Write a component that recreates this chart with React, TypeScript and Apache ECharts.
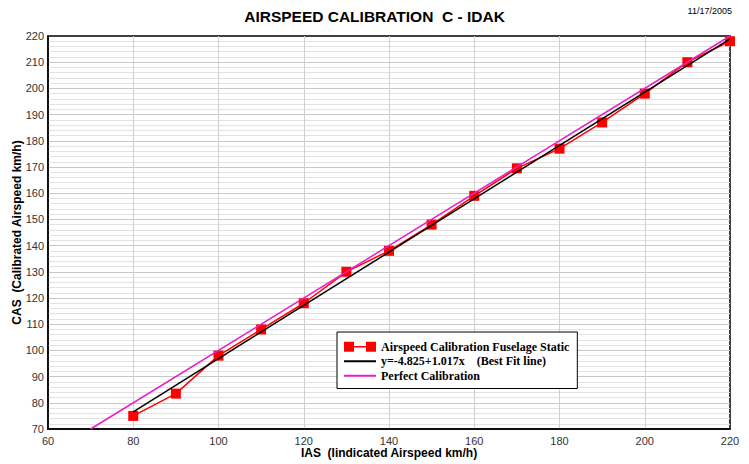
import React, { useEffect, useRef } from "react";
import * as echarts from "echarts";

const ias = [80, 90, 100, 110, 120, 130, 140, 150, 160, 170, 180, 190, 200, 210, 220];
const cas = [75, 83.5, 98, 108, 118, 130, 138, 148, 159, 169.5, 177, 187, 198, 210, 218];
const fitX = [80, 220];
const fitY = [76.5, 218.9];
const perfectX = [70, 220];
const perfectY = [70, 220];

const SANS = "'Liberation Sans', Arial, sans-serif";
const SERIF = "'Liberation Serif', 'Times New Roman', serif";

const NAME_DATA = "Airspeed Calibration Fuselage Static";
const NAME_FIT = "y=-4.825+1.017x    (Best Fit line)";
const NAME_PERFECT = "Perfect Calibration";

export default function App() {
  const ref = useRef<HTMLDivElement>(null);
  useEffect(() => {
    if (!ref.current) return;
    const chart = echarts.init(ref.current, undefined, { renderer: "svg" });
    chart.setOption({
      animation: false,
      backgroundColor: "#ffffff",
      title: [
        {
          text: "AIRSPEED CALIBRATION  C - IDAK",
          left: "center",
          top: 3,
          textStyle: { fontFamily: SANS, fontSize: 15.5, fontWeight: "bold", color: "#000" },
        },
        {
          text: "11/17/2005",
          right: 12,
          top: 1,
          textStyle: { fontFamily: SANS, fontSize: 9, fontWeight: "normal", color: "#000" },
        },
      ],
      legend: {
        orient: "vertical",
        left: 337,
        top: 332,
        padding: [8, 8, 6, 6],
        itemGap: 1,
        itemWidth: 32,
        itemHeight: 10,
        backgroundColor: "#fff",
        borderColor: "#000",
        borderWidth: 1,
        borderRadius: 0,
        textStyle: { fontFamily: SERIF, fontSize: 12, fontWeight: "bold", color: "#000", lineHeight: 13.5 },
        data: [
          {
            name: NAME_DATA,
            icon: "path://M0,0H10V10H0ZM22,0H32V10H22ZM10,4.25H22V5.75H10Z",
            itemStyle: { color: "#ff0000" },
          },
          { name: NAME_FIT, itemStyle: { opacity: 0 } },
          { name: NAME_PERFECT, itemStyle: { opacity: 0 } },
        ],
      },
      grid: {
        left: 48,
        right: 19,
        top: 36,
        bottom: 35,
        outerBoundsMode: "none",
        containLabel: false,
        show: true,
        borderColor: "#000",
        borderWidth: 1.5,
        backgroundColor: "#fff",
      },
      xAxis: {
        type: "value",
        min: 60,
        max: 220,
        interval: 20,
        name: "IAS  (Iindicated Airspeed km/h)",
        nameLocation: "middle",
        nameGap: 18,
        nameMoveOverlap: false,
        nameTextStyle: { fontFamily: SANS, fontSize: 12, fontWeight: "bold", color: "#000" },
        axisLine: { show: true, lineStyle: { color: "#000", width: 1.5 } },
        axisTick: { show: false },
        axisLabel: { fontFamily: SANS, fontSize: 11, color: "#333", margin: 6 },
        splitLine: { show: true, showMinLine: false, showMaxLine: false, lineStyle: { color: "#d0d0d0", width: 1 } },
      },
      yAxis: {
        type: "value",
        min: 70,
        max: 220,
        interval: 10,
        name: "CAS  (Calibrated Airspeed km/h)",
        nameLocation: "middle",
        nameGap: 25,
        nameRotate: 90,
        nameMoveOverlap: false,
        nameTextStyle: { fontFamily: SANS, fontSize: 12, fontWeight: "bold", color: "#000" },
        axisLine: { show: true, lineStyle: { color: "#000", width: 1.5 } },
        axisTick: { show: false },
        axisLabel: { fontFamily: SANS, fontSize: 11, color: "#333", margin: 4 },
        splitLine: { show: true, showMinLine: false, showMaxLine: false, lineStyle: { color: "#c8c8c8", width: 1 } },
        minorTick: { show: false, splitNumber: 5 },
        minorSplitLine: { show: true, lineStyle: { color: "#e2e2e2", width: 1 } },
      },
      series: [
        {
          name: NAME_PERFECT,
          type: "line",
          data: perfectX.map((x, i) => [x, perfectY[i]]),
          showSymbol: false,
          symbol: "none",
          lineStyle: { color: "#e81ec8", width: 1.5 },
          itemStyle: { color: "#e81ec8" },
          z: 3,
        },
        {
          name: NAME_FIT,
          type: "line",
          data: fitX.map((x, i) => [x, fitY[i]]),
          showSymbol: false,
          symbol: "none",
          lineStyle: { color: "#000", width: 1.5 },
          itemStyle: { color: "#000" },
          z: 4,
        },
        {
          name: NAME_DATA,
          type: "line",
          data: ias.map((x, i) => [x, cas[i]]),
          symbol: "rect",
          symbolSize: 10,
          lineStyle: { color: "#ff0000", width: 1.5 },
          itemStyle: { color: "#ff0000" },
          z: 2,
        },
      ],
    });
    return () => chart.dispose();
  }, []);
  return <div ref={ref} style={{ width: 749, height: 464, position: "absolute", left: 0, top: 0 }} />;
}
